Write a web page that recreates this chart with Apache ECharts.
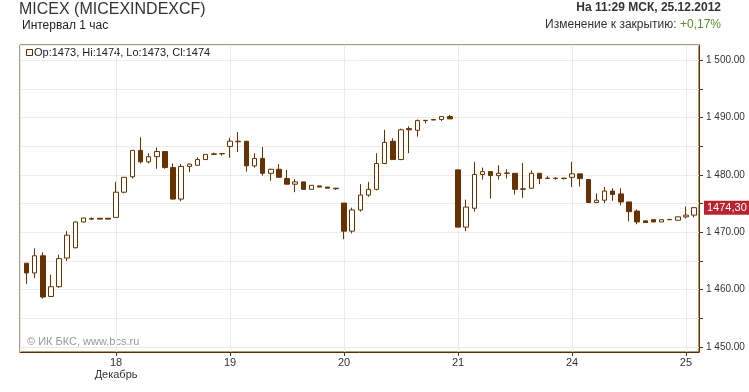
<!DOCTYPE html>
<html>
<head>
<meta charset="utf-8">
<script src="https://cdn.jsdelivr.net/npm/echarts@6/dist/echarts.min.js"></script>
<style>
html,body{margin:0;padding:0;background:#fff;}
#chart{width:749px;height:392px;}
</style>
</head>
<body>
<div id="chart"></div>
<script>
// Candles: [open, close, low, high], one per hour
const day17 = [
  [1464.6,1462.9,1461.0,1464.6],[1462.9,1465.9,1462.0,1467.2],[1465.9,1458.7,1458.4,1466.5],
  [1458.8,1460.5,1458.7,1462.6],[1460.5,1465.4,1460.3,1466.1],[1465.5,1469.5,1465.0,1470.2],
  [1467.3,1471.8,1467.2,1471.9],[1471.8,1472.5,1471.7,1472.5],[1472.3,1472.4,1472.2,1472.6],
  [1472.45,1472.3,1472.3,1472.45],[1472.45,1472.3,1472.3,1472.45]
];
const day18 = [
  [1472.6,1477.0,1472.6,1478.8],[1477.0,1479.6,1476.8,1479.6],[1479.7,1484.3,1479.4,1484.3],
  [1484.3,1482.3,1482.0,1486.6],[1482.3,1483.2,1482.0,1483.8],[1483.2,1484.1,1481.1,1484.8],
  [1484.1,1481.3,1481.1,1484.2],[1481.3,1475.8,1475.7,1482.0],[1475.8,1481.5,1475.4,1481.9],
  [1481.5,1481.9,1480.5,1482.0],[1481.7,1482.7,1481.7,1483.1],[1482.7,1483.6,1482.7,1483.6],
  [1483.6,1483.7,1483.5,1483.9],[1483.7,1483.75,1483.4,1483.75]
];
const day19 = [
  [1485.0,1485.9,1483.0,1486.5],[1485.8,1485.9,1484.0,1487.5],[1485.9,1481.6,1480.6,1485.9],
  [1481.6,1482.9,1481.3,1483.8],[1482.9,1480.3,1479.9,1484.9],[1480.3,1481.0,1479.0,1481.1],
  [1481.0,1479.6,1479.5,1481.9],[1479.4,1478.4,1478.4,1480.9],[1478.4,1478.8,1477.0,1479.3],
  [1478.8,1477.5,1477.5,1478.8],[1477.5,1478.2,1477.5,1478.2],[1478.1,1477.9,1477.9,1478.1],
  [1477.9,1477.7,1477.7,1477.9],[1477.7,1477.6,1477.4,1477.7]
];
const day20 = [
  [1475.1,1470.2,1468.8,1475.1],[1470.2,1473.9,1469.8,1474.3],[1473.9,1476.5,1473.6,1478.4],
  [1476.5,1477.5,1476.2,1478.8],[1477.5,1482.0,1477.3,1483.8],[1482.0,1485.7,1481.9,1487.9],
  [1485.9,1482.7,1482.7,1486.4],[1482.7,1487.9,1482.6,1488.1],[1488.1,1487.9,1483.8,1488.5],
  [1487.8,1489.5,1486.7,1489.7],[1489.5,1489.55,1489.0,1489.55],[1489.6,1489.7,1489.6,1489.7],
  [1489.7,1490.2,1489.4,1490.2],[1490.2,1489.8,1489.8,1490.5]
];
const day21 = [
  [1480.9,1470.9,1470.9,1480.9],[1470.9,1474.4,1470.2,1475.7],[1474.2,1480.1,1473.6,1482.3],
  [1480.1,1480.6,1479.2,1481.3],[1480.6,1479.9,1475.9,1480.7],[1479.9,1480.3,1479.2,1481.7],
  [1480.3,1480.35,1479.4,1481.0],[1480.3,1477.5,1476.6,1480.3],[1477.5,1477.6,1476.0,1482.1],
  [1477.7,1480.3,1477.6,1480.8],[1480.3,1479.4,1478.4,1480.3],[1479.4,1479.45,1479.4,1479.8],
  [1479.4,1479.45,1479.2,1479.6],[1479.4,1479.45,1479.2,1479.45]
];
const day24 = [
  [1479.6,1480.2,1477.9,1482.3],[1480.2,1479.4,1478.0,1480.2],[1479.2,1475.2,1475.1,1479.3],
  [1475.2,1475.6,1475.1,1476.8],[1475.6,1477.2,1475.1,1477.9],[1477.2,1476.6,1475.5,1477.7],
  [1476.7,1475.3,1474.7,1477.7],[1475.3,1473.6,1471.9,1475.3],[1473.7,1471.8,1471.4,1474.0],
  [1472.0,1471.7,1471.7,1472.0],[1472.2,1471.8,1471.8,1472.2],[1471.8,1472.2,1471.8,1472.2],
  [1472.2,1472.25,1472.2,1472.25],[1472.1,1472.7,1472.1,1472.7]
];
const day25 = [
  [1472.7,1473.0,1472.4,1474.5],[1473.0,1474.3,1472.6,1474.4]
];
const dayLabels = ['18','19','20','21','24','25'];
const monthLabel = 'Декабрь';
const candlesPerDay = 14;
const firstDayOffset = 3; // day 17 starts mid-session

const titleText = 'MICEX (MICEXINDEXCF)';
const subtitleText = 'Интервал 1 час';
const stampText = 'На 11:29 МСК, 25.12.2012';
const changeLabel = 'Изменение к закрытию: ';
const changeValue = '+0,17%';
const legendText = 'Op:1473, Hi:1474, Lo:1473, Cl:1474';
const watermark = '© ИК БКС, www.bcs.ru';

const allDays = [day17, day18, day19, day20, day21, day24, day25];
const candles = [];
allDays.forEach(d => d.forEach(c => candles.push(c)));
const seriesData = candles.map((c, i) => [i + firstDayOffset, c[0], c[1], c[2], c[3]]);
const lastClose = candles[candles.length - 1][1];

const brown = '#5e2f00';
const font = 'Liberation Sans, Arial, sans-serif';

function fmtY(v) {
  const r = Math.round(v);
  if (r % 10 !== 0 || Math.abs(v - r) > 1e-6) return '';
  const th = Math.floor(r / 1000);
  const rest = String(r % 1000).padStart(3, '0');
  return th + ' ' + rest + '.00';
}

const chart = echarts.init(document.getElementById('chart'), null, {renderer: 'canvas'});
chart.setOption({
  animation: false,
  backgroundColor: '#ffffff',
  grid: {left: 20, right: 50, top: 45, bottom: 40, show: true, borderColor: brown, borderWidth: 1, backgroundColor: 'transparent'},
  xAxis: {
    type: 'value',
    min: 2.2, max: 85.6,
    minInterval: candlesPerDay, maxInterval: candlesPerDay, splitNumber: 6,
    axisLine: {show: true, lineStyle: {color: brown, width: 1}},
    axisTick: {show: true, length: 4, lineStyle: {color: brown}},
    splitLine: {show: true, lineStyle: {color: '#ebebeb', width: 1}},
    axisLabel: {
      show: true, margin: 5, color: '#333', fontFamily: font, fontSize: 11, lineHeight: 12,
      showMinLabel: false, showMaxLabel: false,
      formatter: function (v) {
        if (Math.abs(v % candlesPerDay) > 1e-6) return '';
        const k = Math.round(v / candlesPerDay) - 1;
        if (k < 0 || k >= dayLabels.length) return '';
        return k === 0 ? dayLabels[k] + '\n' + monthLabel : dayLabels[k];
      }
    }
  },
  yAxis: {
    type: 'value', position: 'right',
    min: 1449.1, max: 1502.7,
    minInterval: 5, maxInterval: 5, splitNumber: 10,
    axisLine: {show: true, lineStyle: {color: brown, width: 1}},
    axisTick: {show: true, length: 4, lineStyle: {color: brown}},
    splitLine: {show: true, lineStyle: {color: '#ebebeb', width: 1}},
    axisLabel: {show: true, margin: 7, color: '#333', fontFamily: font, fontSize: 10,
      showMinLabel: false, showMaxLabel: false, formatter: fmtY}
  },
  series: [{
    type: 'candlestick',
    data: seriesData,
    encode: {x: 0, y: [1, 2, 3, 4]},
    barWidth: 5,
    itemStyle: {color: '#ffffff', color0: '#663300', borderColor: '#663300', borderColor0: '#663300', borderColorDoji: '#663300', borderWidth: 1},
    emphasis: {disabled: true},
    silent: true,
    markLine: {
      silent: true, symbol: 'none',
      lineStyle: {color: 'rgba(0,0,0,0)', width: 0, type: 'solid'},
      data: [{yAxis: lastClose}],
      label: {show: true, position: 'end', distance: 5, opacity: 1,
        formatter: lastClose.toFixed(2).replace('.', ','),
        color: '#ffffff', backgroundColor: '#b8232f', padding: [2, 3, 1, 3],
        fontFamily: font, fontSize: 11}
    }
  }],
  graphic: [
    {type: 'text', left: 19, top: 2, style: {text: titleText, font: '16px ' + font, fill: '#333'}},
    {type: 'text', left: 22, top: 20, style: {text: subtitleText, font: '12px ' + font, fill: '#222'}},
    {type: 'text', right: 28, top: 2, style: {text: stampText, font: 'bold 12px ' + font, fill: '#333'}},
    {type: 'text', right: 28, top: 19, style: {
      text: changeLabel + '{g|' + changeValue + '}', font: '12px ' + font, fill: '#333',
      rich: {g: {fill: '#5b8c2a', font: '12px ' + font}}}},
    {type: 'rect', shape: {x: 26.5, y: 49.5, width: 6, height: 6}, style: {fill: '#fff', stroke: brown, lineWidth: 1}},
    {type: 'text', x: 34, y: 53, style: {text: legendText, font: '11px ' + font, fill: '#222', verticalAlign: 'middle'}},
    {type: 'text', x: 27, y: 342, style: {text: watermark, font: '11px ' + font, fill: '#999', verticalAlign: 'middle'}}
  ]
});
</script>
</body>
</html>
